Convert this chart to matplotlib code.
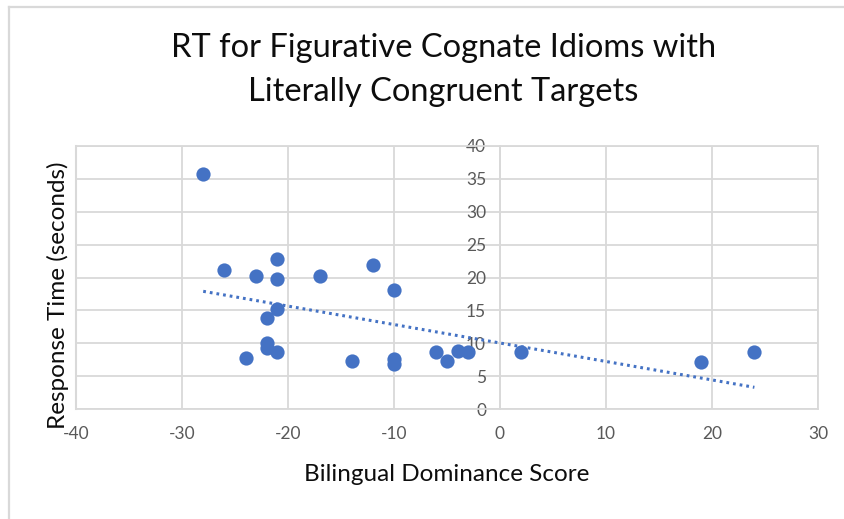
import numpy as np
import matplotlib.pyplot as plt
from matplotlib.lines import Line2D

plt.rcParams["axes.unicode_minus"] = False

# Bilingual dominance score vs. response time (seconds)
dominance = [-28, -26, -23, -21, -21, -17, -21, -22, -22, -22, -21, -24,
             -12, -10, -14, -10, -10, -6, -5, -4, -3, 2, 19, 24]
rt = [35.8, 21.1, 20.3, 22.8, 19.8, 20.3, 15.2, 13.8, 10.1, 9.3, 8.6, 7.8,
      21.9, 18.1, 7.3, 7.6, 6.8, 8.6, 7.3, 8.8, 8.6, 8.6, 7.2, 8.6]

x_ticks = [-40, -30, -20, -10, 0, 10, 20, 30]
y_ticks = [0, 5, 10, 15, 20, 25, 30, 35, 40]

title = "RT for Figurative Cognate Idioms with\nLiterally Congruent Targets"
xlabel = "Bilingual Dominance Score"
ylabel = "Response Time (seconds)"

blue = "#4472C4"
grid_col = "#d9d9d9"
txt_col = "#595959"
font = ["Lato", "DejaVu Sans"]

fig = plt.figure(figsize=(8.45, 5.19), dpi=100)
ax = fig.add_axes([76/845, 1 - 409/519, (818-76)/845, (409-146)/519])

ax.set_xlim(-40, 30)
ax.set_ylim(0, 40)
ax.set_xticks(x_ticks)
ax.set_yticks(y_ticks)
ax.grid(True, color=grid_col, linewidth=1.3)
ax.set_axisbelow(True)

for s in ["top", "right", "bottom"]:
    ax.spines[s].set_color(grid_col)
    ax.spines[s].set_linewidth(1.3)
ax.spines["left"].set_position(("data", 0))
ax.spines["left"].set_color(grid_col)
ax.spines["left"].set_linewidth(1.3)
ax.axvline(-40, color=grid_col, linewidth=1.5, clip_on=False, zorder=0)

ax.tick_params(axis="both", length=0, colors=txt_col, labelsize=12.5)
ax.tick_params(axis="y", pad=10)
ax.tick_params(axis="x", pad=12)
for lab in ax.get_xticklabels() + ax.get_yticklabels():
    lab.set_family(font)

# scatter points
ax.scatter(dominance, rt, s=105, color=blue, zorder=3, linewidths=0)

# linear trendline over the data range
coef = np.polyfit(dominance, rt, 1)
xs = np.array([min(dominance), max(dominance)])
ax.plot(xs, np.polyval(coef, xs), color=blue, linewidth=2.2,
        linestyle=(0, (0.9, 1.3)), dash_capstyle="butt", zorder=2)

fig.text(0.525, 0.865, title, ha="center", va="center", fontsize=23.5,
         color="#0d0d0d", family=font, linespacing=1.6)
fig.text(0.529, 0.085, xlabel, ha="center", va="center", fontsize=17.5,
         color="#0d0d0d", family=font)
fig.text(0.068, 0.432, ylabel, ha="center", va="center", fontsize=17.5,
         color="#0d0d0d", family=font, rotation=90)

# chart border (Excel-like)
fig.add_artist(Line2D([9/845, 9/845], [0, 1 - 7/519], color=grid_col,
                      linewidth=1.6, transform=fig.transFigure))
fig.add_artist(Line2D([9/845, 1], [1 - 7/519, 1 - 7/519], color=grid_col,
                      linewidth=1.6, transform=fig.transFigure))

fig.savefig("out.png", dpi=100)
